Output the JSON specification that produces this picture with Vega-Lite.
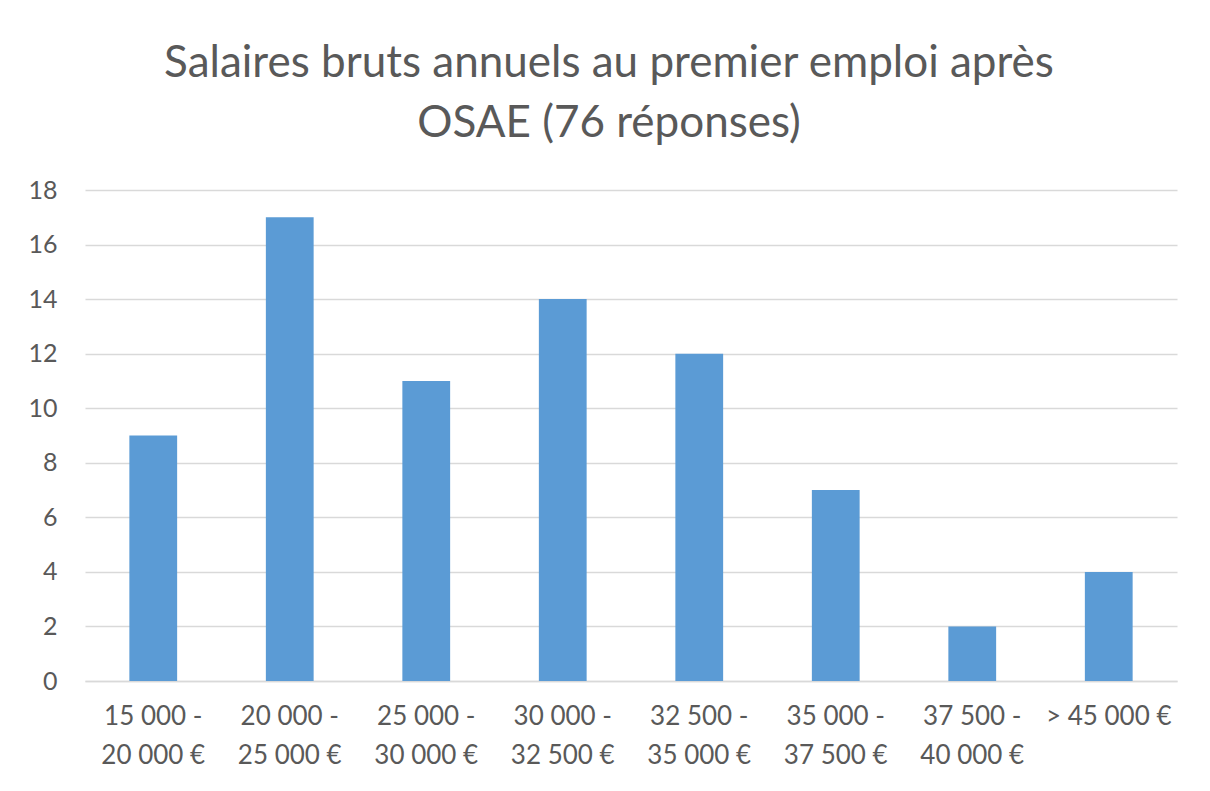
{
  "$schema": "https://vega.github.io/schema/vega-lite/v6.json",
  "autosize": "none",
  "width": 1092,
  "height": 491,
  "padding": {"left": 85, "top": 190, "right": 33, "bottom": 110},
  "background": "white",
  "title": {
    "text": ["Salaires bruts annuels au premier emploi après", "OSAE (76 réponses)"],
    "font": "Lato",
    "fontSize": 44,
    "fontWeight": "normal",
    "color": "#595959",
    "lineHeight": 60,
    "anchor": "middle",
    "dx": -22,
    "offset": 32
  },
  "data": {
    "values": [
      {"tranche": "15 000 -\n20 000 €", "n": 9},
      {"tranche": "20 000 -\n25 000 €", "n": 17},
      {"tranche": "25 000 -\n30 000 €", "n": 11},
      {"tranche": "30 000 -\n32 500 €", "n": 14},
      {"tranche": "32 500 -\n35 000 €", "n": 12},
      {"tranche": "35 000 -\n37 500 €", "n": 7},
      {"tranche": "37 500 -\n40 000 €", "n": 2},
      {"tranche": "> 45 000 €", "n": 4}
    ]
  },
  "mark": {"type": "bar", "color": "#5b9bd5"},
  "encoding": {
    "x": {
      "field": "tranche",
      "type": "nominal",
      "sort": null,
      "scale": {"paddingInner": 0.65, "paddingOuter": 0.325},
      "axis": {
        "title": null,
        "labelAngle": 0,
        "labelExpr": "split(datum.label, '\\n')",
        "labelFont": "Lato",
        "labelFontSize": 26,
        "labelColor": "#595959",
        "labelLineHeight": 39,
        "labelPadding": 22,
        "ticks": false,
        "domainColor": "#d9d9d9",
        "domainWidth": 1.5,
        "grid": false
      }
    },
    "y": {
      "field": "n",
      "type": "quantitative",
      "scale": {"domain": [0, 18]},
      "axis": {
        "title": null,
        "values": [0, 2, 4, 6, 8, 10, 12, 14, 16, 18],
        "labelFont": "Lato",
        "labelFontSize": 25,
        "labelColor": "#595959",
        "labelPadding": 28,
        "ticks": false,
        "domain": false,
        "gridColor": "#d9d9d9",
        "gridWidth": 1.5
      }
    }
  },
  "config": {"view": {"stroke": null}}
}
